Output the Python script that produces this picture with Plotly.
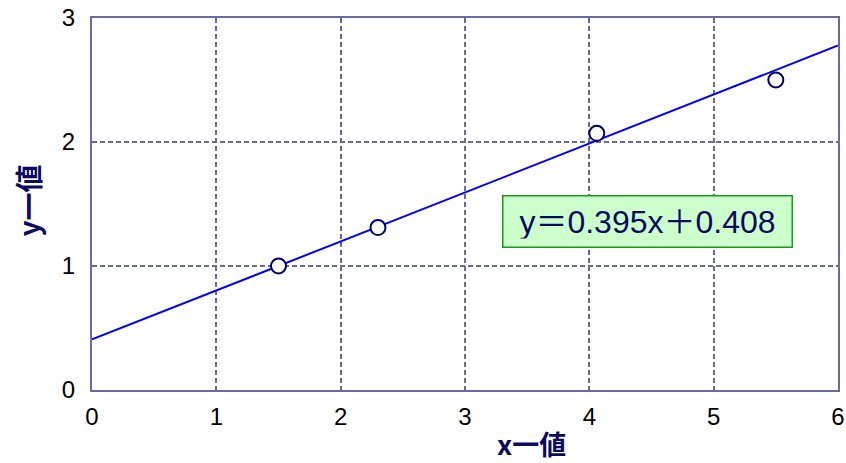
import plotly.graph_objects as go

# Measured data points
x_vals = [1.5, 2.3, 4.06, 5.5]
y_vals = [1.0, 1.31, 2.07, 2.5]

# Fitted line coefficients
slope = 0.395
intercept = 0.408
line_x = [0, 6]
line_y = [slope * v + intercept for v in line_x]

x_ticks = [0, 1, 2, 3, 4, 5, 6]
y_ticks = [0, 1, 2, 3]

axis_color = "#6a6aa2"
navy = "#0a0a5e"
cjk = "Noto Sans CJK JP"

fig = go.Figure()
fig.add_trace(go.Scatter(
    x=line_x, y=line_y, mode="lines",
    line=dict(color="#0000ff", width=2),
    showlegend=False, hoverinfo="skip",
))
fig.add_trace(go.Scatter(
    x=x_vals, y=y_vals, mode="markers",
    marker=dict(size=15, color="white", line=dict(color="#000066", width=2)),
    showlegend=False,
))

# Regression equation label
fig.add_annotation(
    x=4.466, y=1.358, xref="x", yref="y",
    text=f"y＝{slope}x＋{intercept}",
    showarrow=False, width=272, height=34,
    font=dict(family="Liberation Sans, " + cjk, size=32, color=navy),
    bgcolor="#ccffcc", bordercolor="#1a9a1a", borderwidth=1.5, borderpad=8,
)

# Axis titles (positions given in pixels, converted below)
fig.add_annotation(
    x=531, y=463 - 443, xref="paper", yref="paper", text="<b>x一値</b>",
    xanchor="center", yanchor="middle", borderpad=0,
    showarrow=False, font=dict(family=cjk, size=27, color=navy),
)
fig.add_annotation(
    x=27.5, y=463 - 201, xref="paper", yref="paper", text="<b>y一値</b>",
    xanchor="center", yanchor="middle", borderpad=0,
    showarrow=False, textangle=-90, font=dict(family=cjk, size=28, color=navy),
)

axis_common = dict(
    showline=True, linecolor=axis_color, linewidth=2, mirror=True,
    showgrid=True, gridcolor=axis_color, gridwidth=1.6, griddash="5px,3px",
    zeroline=False, ticks="", automargin=False,
    tickfont=dict(family="Liberation Sans, Arial", size=24, color="black"),
)

fig.update_xaxes(range=[0, 6], tickvals=x_ticks, ticklabelstandoff=4, **axis_common)
fig.update_yaxes(range=[0, 3], tickvals=y_ticks, ticklabelstandoff=10, **axis_common)

fig.update_layout(
    width=846, height=463,
    margin=dict(l=92, r=8, t=18, b=73),
    paper_bgcolor="white", plot_bgcolor="white",
)

# Convert the pixel positions of the title annotations to paper coordinates
pw = 846 - 92 - 8
ph = 463 - 18 - 73
for ann in fig.layout.annotations[1:]:
    ann.x = (ann.x - 92) / pw
    ann.y = (ann.y - 73) / ph

fig.write_html("out.html")
